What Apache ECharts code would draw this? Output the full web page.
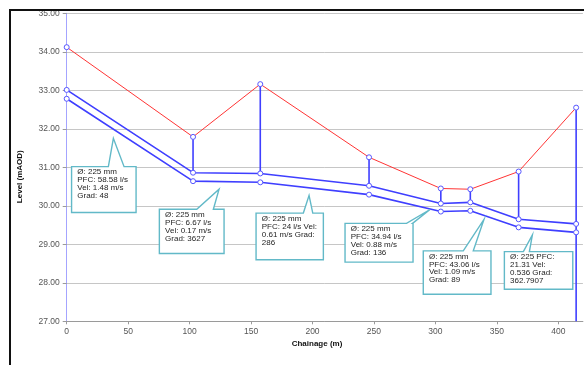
<!DOCTYPE html>
<html>
<head>
<meta charset="utf-8">
<script src="https://cdn.jsdelivr.net/npm/echarts@6/dist/echarts.min.js"></script>
<style>
  html, body { margin: 0; padding: 0; background: #fff; }
  #chart { width: 584px; height: 365px; }
</style>
</head>
<body>
<div id="chart"></div>
<script>
// Long section: node chainages and levels (m AOD)
const chainage     = [0, 102.8, 157.5, 246, 304.4, 328.4, 367.7, 414.5];
const groundLevel  = [34.12, 31.79, 33.16, 31.26, 30.45, 30.43, 30.89, 32.55];
const soffitLevel  = [33.01, 30.86, 30.84, 30.52, 30.06, 30.09, 29.65, 29.53];
const invertLevel  = [32.78, 30.64, 30.61, 30.29, 29.85, 29.87, 29.44, 29.31];

// Labelled pipes: upstream node index and the pipe data text
const pipeFrom   = [0, 1, 2, 3, 5, 6];
const pipeLabels = [
  'Ø: 225 mm\nPFC: 58.58 l/s\nVel: 1.48 m/s\nGrad: 48',
  'Ø: 225 mm\nPFC: 6.67 l/s\nVel: 0.17 m/s\nGrad: 3627',
  'Ø: 225 mm\nPFC: 24 l/s Vel:\n0.61 m/s Grad:\n286',
  'Ø: 225 mm\nPFC: 34.94 l/s\nVel: 0.88 m/s\nGrad: 136',
  'Ø: 225 mm\nPFC: 43.06 l/s\nVel: 1.09 m/s\nGrad: 89',
  'Ø: 225 PFC:\n21.31 Vel:\n0.536 Grad:\n362.7907'
];

// Axis ticks
const xTickStep = 50;
const yTickStep = 1;

// Callout layout in pixels, relative to the pipe midpoint
// tip: pointer tip offset; box: [dx, dy, w, h]; base: pointer base span from box left
const calloutLayout = [
  { tip: [-16.5, -1.7], box: [-58.3, 26.7, 64.5, 45.8], base: [36.8, 52.5] },
  { tip: [-7.6, 7.5],   box: [-67.3, 27.5, 64.7, 44.3], base: [37.4, 54.0] },
  { tip: [-5.6, 6.9],   box: [-58.6, 24.6, 67.3, 46.6], base: [47.3, 56.7] },
  { tip: [25.1, 6.4],   box: [-59.9, 20.3, 68.0, 38.7], base: [61.5, 67.5] },
  { tip: [-10.5, 0.4],  box: [-71.2, 31.8, 67.7, 43.3], base: [40.0, 50.0] },
  { tip: [-15.0, 5.1],  box: [-43.0, 21.8, 68.4, 37.6], base: [19.0, 25.0] }
];

const BLUE = '#3f3fff';
const RED = '#ff3434';
const TEAL = '#62b9c8';

const pts = (levels) => chainage.map((c, i) => [c, levels[i]]);

const marker = {
  symbol: 'circle',
  symbolSize: 5,
  itemStyle: { color: '#ffffff', borderColor: '#5656ff', borderWidth: 1 }
};

const chart = echarts.init(document.getElementById('chart'), null, { renderer: 'canvas' });

chart.setOption({
  animation: false,
  backgroundColor: '#ffffff',
  grid: { left: 66.7, right: 1.1, top: 13.3, bottom: 43.7, containLabel: false },
  xAxis: {
    type: 'value',
    min: 0, max: 420, interval: xTickStep,
    axisLine: { show: true, lineStyle: { color: '#9a9a9a', width: 1 } },
    axisTick: { show: true, length: 3, lineStyle: { color: '#9a9a9a' } },
    axisLabel: { showMaxLabel: false, color: '#555', fontSize: 8.5, fontFamily: 'Liberation Sans', margin: 6 },
    splitLine: { show: false }
  },
  yAxis: {
    type: 'value',
    min: 27, max: 35, interval: yTickStep,
    axisLine: { show: true, lineStyle: { color: '#a4a4ff', width: 1 } },
    axisTick: { show: true, length: 4, lineStyle: { color: '#9a9a9a' } },
    axisLabel: { color: '#555', fontSize: 8.5, fontFamily: 'Liberation Sans', margin: 7,
      formatter: (v) => v.toFixed(2) },
    splitLine: { show: true, lineStyle: { color: '#c6c6c6', width: 1 } }
  },
  series: [
    {
      // manhole shafts: ground down to soffit; the outfall runs to the axis floor
      type: 'custom',
      z: 2,
      clip: false,
      data: pts(groundLevel).slice(1).map((p, k) => [p[0], p[1], k + 1]),
      renderItem: (params, api) => {
        const i = api.value(2);
        const last = i === chainage.length - 1;
        const top = api.coord([chainage[i], groundLevel[i]]);
        const bot = api.coord([chainage[i], last ? 27 : soffitLevel[i]]);
        return {
          type: 'line',
          shape: { x1: top[0], y1: top[1], x2: bot[0], y2: bot[1] },
          style: { stroke: BLUE, lineWidth: 1.6 }
        };
      }
    },
    Object.assign({
      name: 'Ground', type: 'line', z: 3,
      data: pts(groundLevel),
      lineStyle: { color: RED, width: 1 }
    }, marker),
    Object.assign({
      name: 'Soffit', type: 'line', z: 3,
      data: pts(soffitLevel),
      lineStyle: { color: BLUE, width: 1.6 }
    }, marker),
    Object.assign({
      name: 'Invert', type: 'line', z: 3,
      data: pts(invertLevel),
      lineStyle: { color: BLUE, width: 1.6 }
    }, marker),
    {
      // pipe data callouts
      type: 'custom',
      z: 5,
      clip: false,
      data: pipeFrom.map((n, k) => [chainage[n], invertLevel[n], k]),
      renderItem: (params, api) => {
        const k = api.value(2);
        const a = pipeFrom[k], b = a + 1;
        const p1 = api.coord([chainage[a], invertLevel[a]]);
        const p2 = api.coord([chainage[b], invertLevel[b]]);
        const mx = (p1[0] + p2[0]) / 2, my = (p1[1] + p2[1]) / 2;
        const L = calloutLayout[k];
        const bx = mx + L.box[0], by = my + L.box[1], bw = L.box[2], bh = L.box[3];
        const tx = mx + L.tip[0], ty = my + L.tip[1];
        const shape = [
          [bx, by], [bx + L.base[0], by], [tx, ty], [bx + L.base[1], by],
          [bx + bw, by], [bx + bw, by + bh], [bx, by + bh]
        ];
        return {
          type: 'group',
          children: [
            { type: 'polygon', shape: { points: shape },
              style: { fill: '#ffffff', stroke: TEAL, lineWidth: 1.4 } },
            { type: 'text',
              style: { text: pipeLabels[k], x: bx + 5.7, y: by + 1.6,
                font: '8px "Liberation Sans"', fill: '#1e1e1e', lineHeight: 7.9,
                verticalAlign: 'top', align: 'left' } }
          ]
        };
      }
    }
  ],
  graphic: [
    { type: 'text', z: 10, style: { text: 'Chainage (m)', x: 317, y: 344,
      font: 'bold 8px "Liberation Sans"', fill: '#111', align: 'center', verticalAlign: 'middle' } },
    { type: 'text', z: 10, x: 20, y: 176.7, rotation: Math.PI / 2,
      style: { text: 'Level (mAOD)', x: 0, y: 0,
      font: 'bold 8px "Liberation Sans"', fill: '#111', align: 'center', verticalAlign: 'middle' } },
    // frame
    { type: 'rect', z: 20, shape: { x: 0, y: 0, width: 584, height: 9 }, style: { fill: '#ffffff' } },
    { type: 'rect', z: 20, shape: { x: 0, y: 0, width: 9, height: 365 }, style: { fill: '#ffffff' } },
    { type: 'line', z: 21, shape: { x1: 9, y1: 10, x2: 584, y2: 10 }, style: { stroke: '#111', lineWidth: 2 } },
    { type: 'line', z: 21, shape: { x1: 10, y1: 9, x2: 10, y2: 365 }, style: { stroke: '#111', lineWidth: 2 } }
  ]
});
</script>
</body>
</html>
